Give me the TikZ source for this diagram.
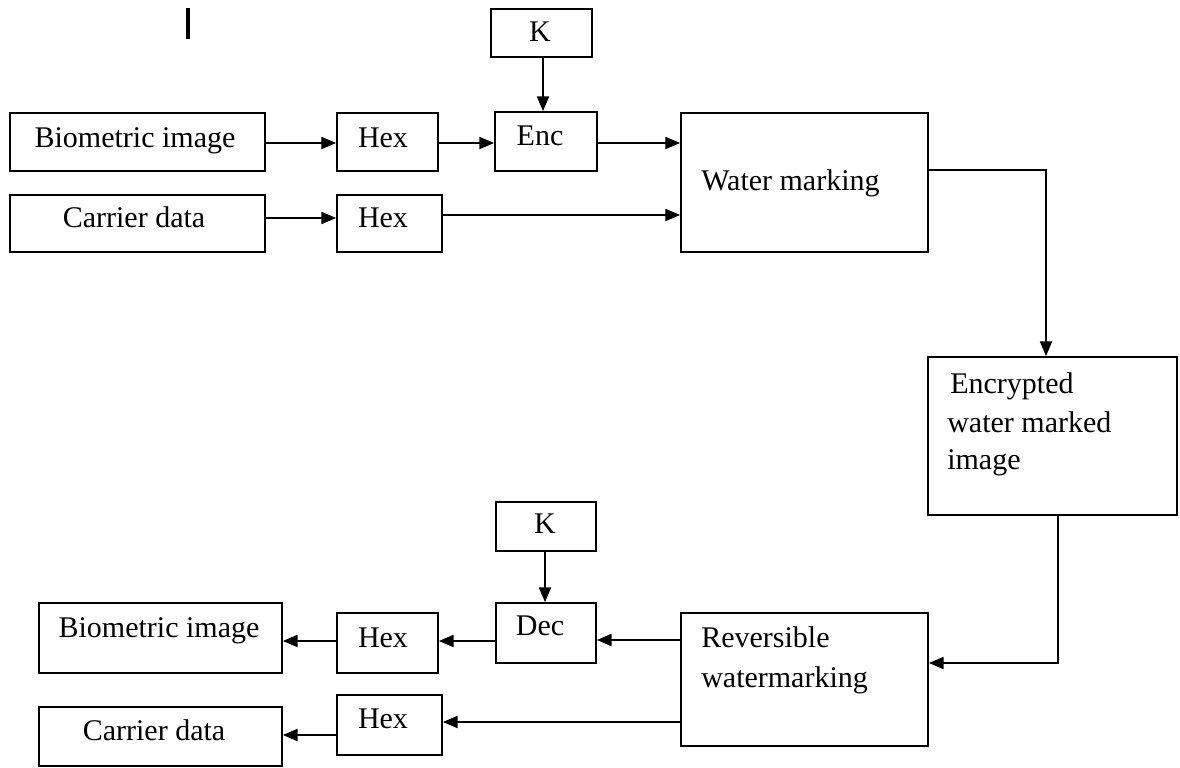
\documentclass[tikz,border=0pt]{standalone}
\usepackage{fontspec}
\setmainfont{Liberation Serif}
\usetikzlibrary{arrows.meta,fit}
\begin{document}
\begin{tikzpicture}[x=0.75pt,y=-0.75pt,
  box/.style={draw=black,line width=1.3pt,inner sep=0pt},
  lbl/.style={font=\fontsize{22.5}{26}\selectfont,inner sep=0pt,anchor=base},
  lbll/.style={font=\fontsize{22.5}{26}\selectfont,inner sep=0pt,anchor=base west},
  arr/.style={line width=1.3pt,-{Triangle[length=11pt,width=9pt]}}]
\path[use as bounding box] (0,0) rectangle (1180,767);
\fill[white] (0,0) rectangle (1180,767);
% cursor bar
\draw[line width=3pt] (188,8) -- (188,39);
% boxes (top)
\node[box,fit={(491,9)(592,57)}] (k1) {};
\node[box,fit={(10,113)(265,171)}] (bio1) {};
\node[box,fit={(337,113)(438,171)}] (hex1) {};
\node[box,fit={(495,112)(597,171)}] (enc) {};
\node[box,fit={(10,195)(265,252)}] (car1) {};
\node[box,fit={(337,195)(442,252)}] (hex2) {};
\node[box,fit={(681,113)(928,252)}] (wm) {};
\node[box,fit={(928,357)(1177,515)}] (ewm) {};
% boxes (bottom)
\node[box,fit={(496,502)(596,551)}] (k2) {};
\node[box,fit={(496,603)(596,663)}] (dec) {};
\node[box,fit={(337,613)(438,673)}] (hex3) {};
\node[box,fit={(39,603)(282,673)}] (bio2) {};
\node[box,fit={(337,695)(442,755)}] (hex4) {};
\node[box,fit={(39,707)(282,766)}] (car2) {};
\node[box,fit={(681,613)(928,746)}] (rw) {};
% labels
\node[lbl] (tk1) at (540,42) {K};
\node[lbl] (tbio1) at (135,147) {Biometric image};
\node[lbl] (thex1) at (383,147) {Hex};
\node[lbl] (tenc) at (540,145) {Enc};
\node[lbl] (tcar1) at (134,227) {Carrier data};
\node[lbl] (thex2) at (383,227) {Hex};
\node[lbll] (twm) at (701,190) {Water marking};
\node[lbll] (tewm1) at (950,393) {Encrypted};
\node[lbll] (tewm2) at (947,432) {water marked};
\node[lbll] (tewm3) at (947,469) {image};
\node[lbl] (tk2) at (545,533) {K};
\node[lbl] (tdec) at (540,635) {Dec};
\node[lbl] (thex3) at (383,647) {Hex};
\node[lbl] (tbio2) at (159,637) {Biometric image};
\node[lbl] (thex4) at (383,728) {Hex};
\node[lbl] (tcar2) at (154,740) {Carrier data};
\node[lbll] (trw1) at (701,647) {Reversible};
\node[lbll] (trw2) at (701,687) {watermarking};
% connectors (top)
\draw[arr] (bio1.east |- 0,143) -- (hex1.west |- 0,143);
\draw[arr] (hex1.east |- 0,143) -- (enc.west |- 0,143);
\draw[arr] (k1.south -| 543,0) -- (enc.north -| 543,0);
\draw[arr] (enc.east |- 0,143) -- (wm.west |- 0,143);
\draw[arr] (car1.east |- 0,218) -- (hex2.west |- 0,218);
\draw[arr] (hex2.east |- 0,215) -- (wm.west |- 0,215);
\draw[arr] (wm.east |- 0,170) -| (ewm.north -| 1046,0);
% connectors (bottom)
\draw[arr] (ewm.south -| 1058,0) |- (rw.east |- 0,663);
\draw[arr] (k2.south -| 545,0) -- (dec.north -| 545,0);
\draw[arr] (rw.west |- 0,640) -- (dec.east |- 0,640);
\draw[arr] (dec.west |- 0,641) -- (hex3.east |- 0,641);
\draw[arr] (hex3.west |- 0,641) -- (bio2.east |- 0,641);
\draw[arr] (rw.west |- 0,722) -- (hex4.east |- 0,722);
\draw[arr] (hex4.west |- 0,735) -- (car2.east |- 0,735);
\end{tikzpicture}
\end{document}
